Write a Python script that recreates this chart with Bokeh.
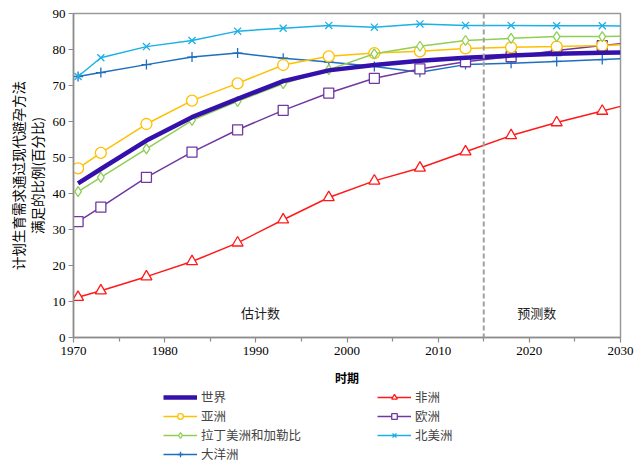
from bokeh.plotting import figure
from bokeh.layouts import column
from bokeh.models import Legend, LegendItem, Span, Label, FixedTicker
from bokeh.embed import file_html
from bokeh.resources import INLINE

years = [1970.5, 1973, 1978, 1983, 1988, 1993, 1998, 2003, 2008, 2013, 2018, 2023, 2028, 2030]

world = [42.8, 46.8, 54.7, 61.2, 66.3, 71.2, 74.2, 75.7, 76.9, 77.7, 78.3, 78.8, 79.1, 79.2]
africa = [11.2, 13.0, 16.9, 21.1, 26.3, 32.7, 38.9, 43.5, 47.1, 51.6, 56.1, 59.7, 62.9, 64.2]
asia = [47.0, 51.3, 59.3, 65.8, 70.6, 75.7, 78.1, 79.0, 79.5, 80.3, 80.6, 80.8, 81.1, 81.3]
europe = [32.2, 36.2, 44.5, 51.5, 57.7, 63.1, 67.9, 72.0, 74.6, 76.6, 78.0, 79.7, 81.1, 81.6]
latam = [40.5, 44.5, 52.4, 60.3, 65.6, 70.5, 74.4, 78.8, 80.9, 82.5, 83.1, 83.6, 83.6, 83.7]
namerica = [72.5, 77.7, 80.8, 82.5, 85.1, 85.9, 86.7, 86.2, 87.1, 86.7, 86.7, 86.6, 86.6, 86.5]
oceania = [72.5, 73.6, 75.8, 77.9, 79.0, 77.6, 76.5, 75.3, 73.7, 75.8, 76.2, 76.7, 77.2, 77.4]

names = ["世界", "非洲", "亚洲", "欧洲", "拉丁美洲和加勒比", "北美洲", "大洋洲"]
y_label = "计划生育需求通过现代避孕方法\n满足的比例(百分比)"
x_label = "时期"
x_ticks = [1970, 1980, 1990, 2000, 2010, 2020, 2030]
y_ticks = [0, 10, 20, 30, 40, 50, 60, 70, 80, 90]

serif = "Liberation Serif"
cjk = "Noto Sans CJK SC"

styles = {
    "world": dict(color="#3311aa", marker=None, size=0),
    "africa": dict(color="#ff1a1a", marker="triangle", size=11),
    "asia": dict(color="#ffc000", marker="circle", size=11),
    "europe": dict(color="#7038a0", marker="square", size=10),
    "latam": dict(color="#8fcf55", marker="diamond", size=10),
    "namerica": dict(color="#1cb0e6", marker="x", size=10),
    "oceania": dict(color="#1f6fbf", marker="cross", size=10),
}
data = {"world": world, "africa": africa, "asia": asia, "europe": europe,
        "latam": latam, "namerica": namerica, "oceania": oceania}

p = figure(width=642, height=388, x_range=(1970, 2030), y_range=(0, 90),
           output_backend="svg", toolbar_location=None,
           min_border_left=73, min_border_right=22, min_border_top=13, min_border_bottom=51)
p.xgrid.visible = False
p.ygrid.visible = False
p.outline_line_color = "#9a9a9a"
p.outline_line_width = 1.5
p.background_fill_color = "white"
p.border_fill_color = "white"

for ax in (p.xaxis[0], p.yaxis[0]):
    ax.axis_line_color = "#8c8c8c"
    ax.axis_line_width = 1.5
    ax.major_tick_line_color = "#8c8c8c"
    ax.minor_tick_line_color = "#8c8c8c"
    ax.major_tick_line_width = 1.2
    ax.minor_tick_line_width = 1.2
    ax.major_label_text_font = serif
    ax.major_label_text_font_size = "13px"
    ax.major_label_text_color = "black"
    ax.axis_label_text_font = cjk
    ax.axis_label_text_color = "black"
    ax.major_tick_in = 0
    ax.major_tick_out = 5

p.xaxis.ticker = FixedTicker(ticks=x_ticks, minor_ticks=[1975, 1985, 1995, 2005, 2015, 2025])
p.xaxis.minor_tick_in = 0
p.xaxis.minor_tick_out = 4
p.xaxis.axis_label = x_label
p.xaxis.axis_label_text_font_size = "12px"
p.xaxis.axis_label_text_font_style = "bold"
p.xaxis.major_label_standoff = 4
p.xaxis.axis_label_standoff = 11

p.yaxis.ticker = FixedTicker(ticks=y_ticks, minor_ticks=[])
p.yaxis.axis_label = y_label
p.yaxis.axis_label_text_font_size = "13.5px"
p.yaxis.axis_label_text_line_height = 0.95
p.yaxis.axis_label_text_font_style = "normal"
p.yaxis.major_label_standoff = 3
p.yaxis.axis_label_standoff = 3

p.add_layout(Span(location=2015, dimension="height", line_color="#a0a0a0",
                  line_dash="5 3", line_width=2))

p.add_layout(Label(x=1990.5, y=7, text="估计数", text_font=cjk, text_font_size="13px",
                   text_align="center", text_baseline="middle", text_color="#222222"))
p.add_layout(Label(x=2020.8, y=7, text="预测数", text_font=cjk, text_font_size="13px",
                   text_align="center", text_baseline="middle", text_color="#222222"))

mx = years[:-1]

def series(fig, key, size=None, lw=1.5):
    st = styles[key]
    vals = data[key]
    out = [fig.line(years, vals, line_color=st["color"], line_width=lw)]
    if st["marker"]:
        out.append(fig.scatter(mx, vals[:-1], marker=st["marker"], size=size or st["size"],
                               line_color=st["color"], fill_color="white", line_width=1.3))
    return out

for key in ["oceania", "namerica", "europe", "africa", "asia", "latam"]:
    series(p, key)
series(p, "world", lw=4.5)

# legend panel (its renderers hold the same series but lie outside its empty view)
lg = figure(width=642, height=76, x_range=(0, 1), y_range=(0, 1),
            output_backend="svg", toolbar_location=None,
            min_border_left=0, min_border_right=0, min_border_top=0, min_border_bottom=0)
lg.axis.visible = False
lg.grid.visible = False
lg.outline_line_color = None
lg.background_fill_color = "white"
lg.border_fill_color = "white"

order = ["world", "asia", "latam", "oceania", "africa", "europe", "namerica"]
label_of = {"world": names[0], "africa": names[1], "asia": names[2], "europe": names[3],
            "latam": names[4], "namerica": names[5], "oceania": names[6]}
items = []
for key in order:
    rs = series(lg, key, size=6, lw=4.5 if key == "world" else 1.5)
    items.append(LegendItem(label=label_of[key], renderers=rs))

legend = Legend(items=items, ncols=2, location=(90, 1), border_line_color=None,
                background_fill_alpha=0,
                label_text_font="Liberation Serif, Noto Sans CJK SC",
                label_text_font_size="12.5px",
                glyph_width=34, glyph_height=14, label_height=14, label_standoff=4,
                spacing=0, padding=0, margin=0, label_width=176)
lg.add_layout(legend)

layout = column(p, lg, spacing=0)
open("out.html", "w").write(file_html(layout, INLINE))
